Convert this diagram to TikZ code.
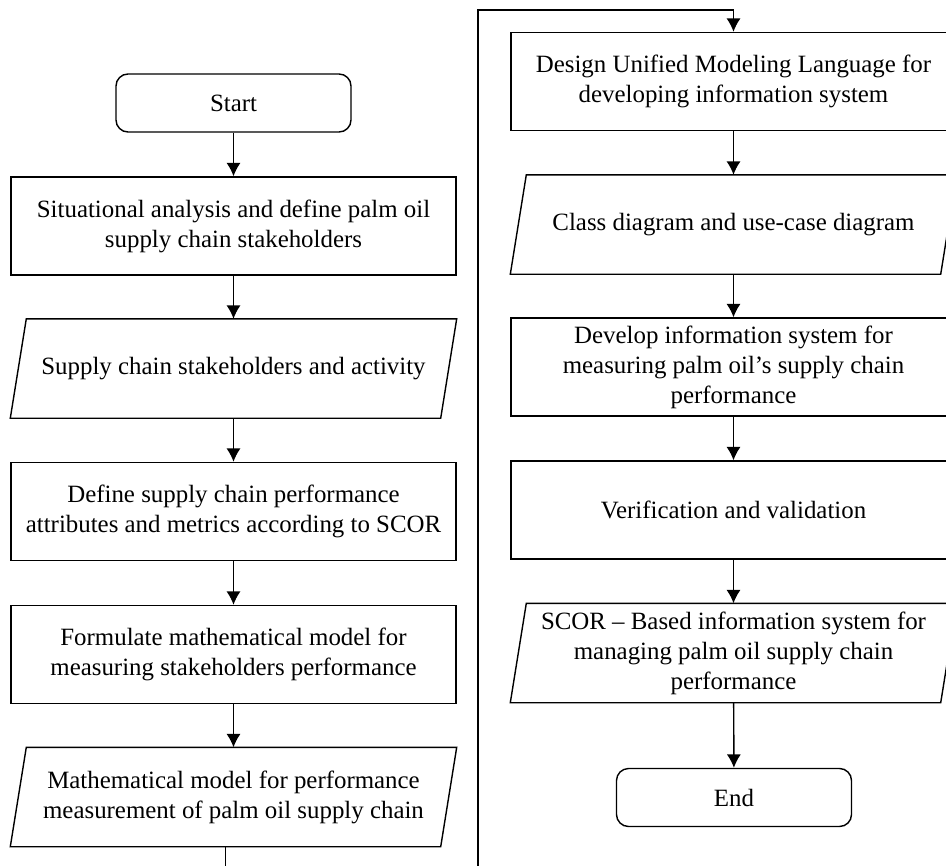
\documentclass[tikz,border=0pt]{standalone}
\usepackage{fontspec}
\setmainfont{Liberation Serif}
\usepackage{tikz}
\usetikzlibrary{positioning}
\usetikzlibrary{arrows.meta}

\begin{document}
\begin{tikzpicture}[>={Latex[length=9.5pt,width=10pt]}, line width=1pt,
  every node/.style={font=\fontsize{17.7}{21.3}\selectfont, align=center},
  procbox/.style={draw, rectangle, minimum width=11.125cm, minimum height=2.45cm, inner sep=0pt},
  databox/.style={rectangle, minimum width=11.125cm, minimum height=2.45cm, inner sep=0pt},
  termbox/.style={draw, rectangle, rounded corners=0.3cm, minimum width=5.875cm, minimum height=1.45cm}]

\clip (0,0) rectangle (23.65,-21.625);

% left column
\node[termbox] (start) at (5.8375,-2.575) {Start};
\node[procbox] (situation) at (5.8375,-5.65) {Situational analysis and define palm oil\\supply chain stakeholders};
\node[databox] (stakeholders) at (5.8375,-9.2125) {Supply chain stakeholders and activity};
\node[procbox] (attributes) at (5.8375,-12.7875) {Define supply chain performance\\attributes and metrics according to SCOR};
\node[procbox] (formulate) at (5.8375,-16.3625) {Formulate mathematical model for\\measuring stakeholders performance};
\node[databox] (model) at (5.8375,-19.925) {Mathematical model for performance\\measurement of palm oil supply chain};

% right column
\node[procbox] (uml) at (18.3375,-2.0375) {Design Unified Modeling Language for\\developing information system};
\node[databox] (diagrams) at (18.3375,-5.6125) {Class diagram and use-case diagram};
\node[procbox] (develop) at (18.3375,-9.175) {Develop information system for\\measuring palm oil's supply chain\\performance};
\node[procbox] (verify) at (18.3375,-12.75) {Verification and validation};
\node[databox] (system) at (18.3375,-16.325) {SCOR -- Based information system for\\managing palm oil supply chain\\performance};
\node[termbox] (end) at (18.35,-19.9375) {End};

% slanted outline of the data boxes
\foreach \n in {stakeholders, model, diagrams, system}
  \draw ([xshift=0.4cm]\n.north west) -- (\n.north east) -- ([xshift=-0.4cm]\n.south east) -- (\n.south west) -- cycle;

\foreach \a/\b in {start/situation, situation/stakeholders, stakeholders/attributes, attributes/formulate, formulate/model, uml/diagrams, diagrams/develop, develop/verify, verify/system, system/end}
  \draw[->] (\a) -- (\b);

% loop from left column to right column
\coordinate (loopb) at (11.95,-22.5);
\coordinate (loopt) at (11.95,-0.25);
\draw[->] ([xshift=-0.2cm]model.south) -- ([xshift=-0.2cm]model.south |- loopb) -- (loopb) -- (loopt) -| (uml);
\end{tikzpicture}
\end{document}
